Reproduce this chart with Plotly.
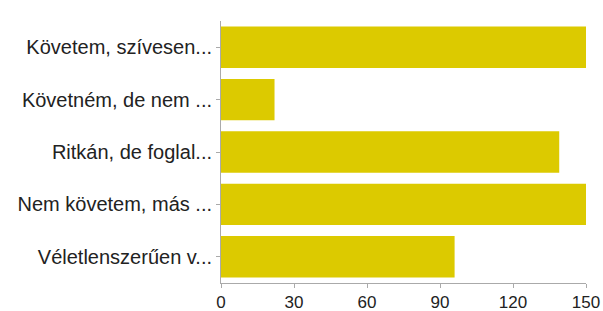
import plotly.graph_objects as go

categories = ["Követem, szívesen...", "Követném, de nem ...", "Ritkán, de foglal...",
              "Nem követem, más ...", "Véletlenszerűen v..."]
values = [150, 22, 139, 150, 96]
x_ticks = [0, 30, 60, 90, 120, 150]

fig = go.Figure(go.Bar(
    y=categories, x=values, orientation="h",
    marker=dict(color="#DCCA00", line=dict(width=0)),
    width=0.79,
))
fig.update_layout(
    width=603, height=311,
    margin=dict(l=221, r=17, t=21, b=28),
    paper_bgcolor="white", plot_bgcolor="white",
    font=dict(family="Liberation Sans, Arial, sans-serif", size=20, color="#222"),
    showlegend=False,
)
fig.update_xaxes(
    range=[0, 150], tickvals=x_ticks, showgrid=False, zeroline=False,
    showline=True, linecolor="#aaa", linewidth=1,
    ticks="outside", ticklen=4, tickcolor="#aaa",
    tickfont=dict(size=17, color="#222"), automargin=False,
)
fig.update_yaxes(
    autorange="reversed", showgrid=False, zeroline=False,
    showline=True, linecolor="#aaa", linewidth=1,
    ticks="outside", ticklen=4, tickcolor="#aaa",
    tickfont=dict(size=20, color="#222"), automargin=False,
)
fig.write_html("out.html", config={"displayModeBar": False},
               post_script="document.body.style.margin='0';")
